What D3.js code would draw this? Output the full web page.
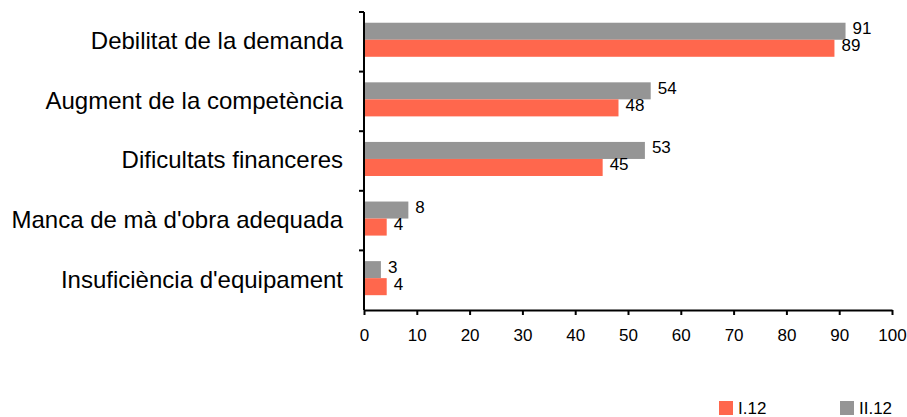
<!DOCTYPE html>
<html>
<head>
<meta charset="utf-8">
<script src="https://cdn.jsdelivr.net/npm/d3@7"></script>
<style>
  body { margin: 0; background: #fff; }
  text { font-family: "Liberation Sans", Arial, sans-serif; fill: #000; }
</style>
</head>
<body>
<div id="chart"></div>
<script>
// data
const categories = [
  "Debilitat de la demanda",
  "Augment de la competència",
  "Dificultats financeres",
  "Manca de mà d'obra adequada",
  "Insuficiència d'equipament"
]
const seriesNames = ["II.12", "I.12"]
const valuesI12 = [89.1, 48.2, 45.2, 4.3, 4.3]
const valuesII12 = [91.2, 54.3, 53.2, 8.4, 3.2]
const labelsI12 = ["89", "48", "45", "4", "4"]
const labelsII12 = ["91", "54", "53", "8", "3"]
const xTicks = [0, 10, 20, 30, 40, 50, 60, 70, 80, 90, 100]

const colors = { "I.12": "#ff674d", "II.12": "#959595" }

const W = 907, H = 417
const MARGIN = { LEFT: 364, RIGHT: 15, TOP: 12, BOTTOM: 107 }

const svg = d3.select("#chart").append("svg")
  .attr("width", W)
  .attr("height", H)

const x = d3.scaleLinear()
  .domain([0, 100])
  .range([MARGIN.LEFT, 892])

const y = d3.scaleBand()
  .domain(categories)
  .range([MARGIN.TOP, H - MARGIN.BOTTOM])

const ySub = d3.scaleBand()
  .domain(seriesNames)
  .range([0, y.bandwidth()])
  .paddingOuter(0.75)
  .align(0.42)

const rows = categories.map((c, i) => ({
  cat: c,
  bars: [
    { s: "II.12", v: valuesII12[i], label: labelsII12[i] },
    { s: "I.12", v: valuesI12[i], label: labelsI12[i] }
  ]
}))

// bars
const groups = svg.append("g").selectAll("g")
  .data(rows)
  .join("g")
  .attr("transform", d => `translate(0, ${y(d.cat)})`)

groups.selectAll("rect")
  .data(d => d.bars)
  .join("rect")
  .attr("x", x(0))
  .attr("y", d => ySub(d.s))
  .attr("width", d => x(d.v) - x(0))
  .attr("height", ySub.bandwidth())
  .attr("fill", d => colors[d.s])

groups.selectAll("text")
  .data(d => d.bars)
  .join("text")
  .attr("x", d => x(d.v) + 7)
  .attr("y", d => ySub(d.s) + ySub.bandwidth() / 2 - 3)
  .attr("dy", "0.35em")
  .attr("font-size", "17px")
  .text(d => d.label)

// x axis
const xAxis = svg.append("g")
  .attr("transform", `translate(0, ${H - MARGIN.BOTTOM})`)
  .call(d3.axisBottom(x).tickValues(xTicks).tickSize(5).tickPadding(14).tickSizeOuter(0))
xAxis.selectAll("text").attr("font-size", "17px").style("font-family", "Liberation Sans, Arial, sans-serif")
xAxis.selectAll("line, path").attr("stroke", "#000").attr("stroke-width", 2)

// y axis: ticks at band boundaries
const yAxis = svg.append("g")
  .attr("transform", `translate(${x(0)}, 0)`)
yAxis.append("line")
  .attr("y1", MARGIN.TOP)
  .attr("y2", H - MARGIN.BOTTOM)
  .attr("stroke", "#000")
  .attr("stroke-width", 2)
yAxis.selectAll(".tk")
  .data(categories)
  .join("line")
  .attr("class", "tk")
  .attr("x1", -5)
  .attr("x2", 0)
  .attr("y1", d => y(d))
  .attr("y2", d => y(d))
  .attr("stroke", "#000")
  .attr("stroke-width", 2)

// category labels
svg.append("g").selectAll("text")
  .data(categories)
  .join("text")
  .attr("x", 343)
  .attr("y", d => y(d) + y.bandwidth() / 2 - 1)
  .attr("dy", "0.35em")
  .attr("text-anchor", "end")
  .attr("font-size", "24px")
  .text(d => d)

// legend
const legendItems = [
  { s: "I.12", x: 719 },
  { s: "II.12", x: 840 }
]
const legend = svg.append("g").selectAll("g")
  .data(legendItems)
  .join("g")
  .attr("transform", d => `translate(${d.x}, 401)`)
legend.append("rect")
  .attr("width", 14)
  .attr("height", 14)
  .attr("fill", d => colors[d.s])
legend.append("text")
  .attr("x", 19)
  .attr("y", 13)
  .attr("font-size", "17px")
  .text(d => d.s)
</script>
</body>
</html>
